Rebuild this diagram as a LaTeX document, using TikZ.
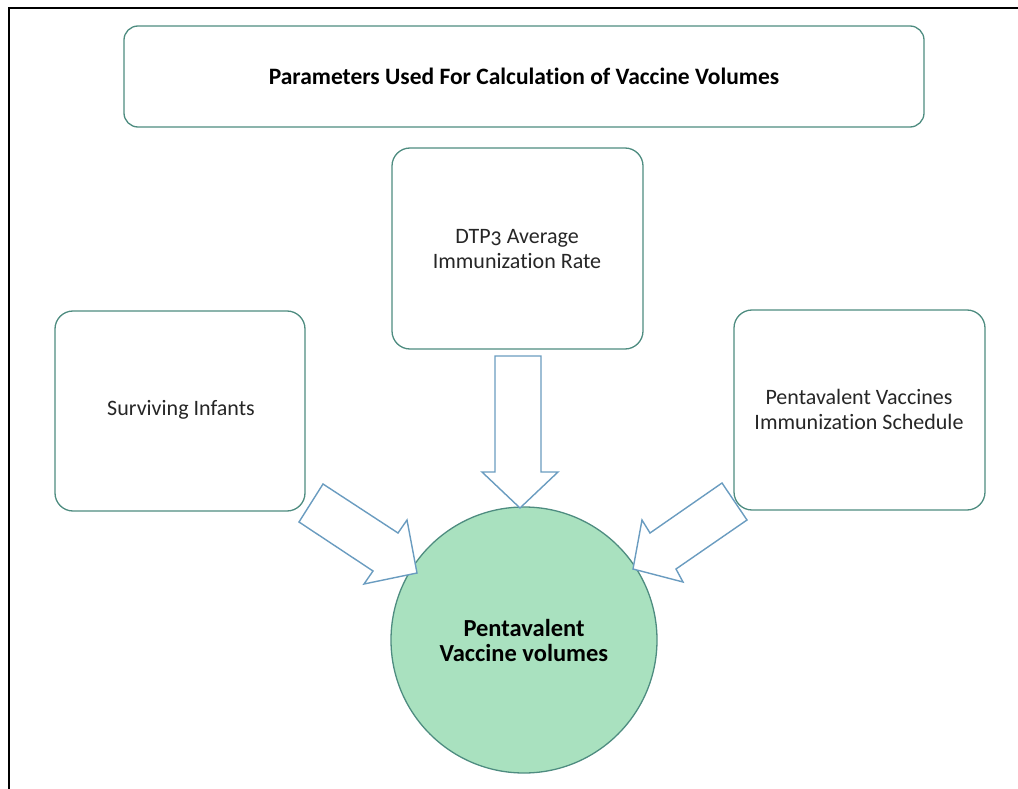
\documentclass[tikz,border=0pt]{standalone}
\usepackage{fontspec}
\setmainfont[Ligatures=NoCommon]{Carlito}
\begin{document}
\begin{tikzpicture}[x=1pt,y=-1pt,
  box/.style={draw=boxline,line width=1.3pt,rounded corners=14pt,fill=white},
  blockarrow/.style={draw=arrowline,line width=1.4pt,fill=white,line join=miter},
  label/.style={font=\fontsize{22}{25}\selectfont,align=center,text=black!85},
  boldlabel/.style={font=\bfseries\fontsize{23.5}{27}\selectfont,align=center}]
\definecolor{boxline}{HTML}{4E8C80}
\definecolor{arrowline}{HTML}{6A9CC0}
\definecolor{circfill}{HTML}{A9E1BF}
\useasboundingbox (0,0) rectangle (1018,789);
% page frame: top and left rules
\draw[line width=2.2pt] (9,789) -- (9,8) -- (1018,8);
% boxes
\draw[box] (124,26) rectangle (924,127);
\node[boldlabel] (title) at (524,76) {Parameters Used For Calculation of Vaccine Volumes};
\draw[box,rounded corners=18pt] (392,148) rectangle (643,349);
\node[label] (dtp) at (517,249) {DTP\oldstylenums{3} Average\\Immunization Rate};
\draw[box,rounded corners=18pt] (55,311) rectangle (305,511);
\node[label] (infants) at (181,410) {Surviving Infants};
\draw[box,rounded corners=18pt] (734,310) rectangle (985,510);
\node[label] (schedule) at (859,409) {Pentavalent Vaccines\\Immunization Schedule};
% central circle
\draw[draw=boxline,line width=1.3pt,fill=circfill] (524,640) circle (133);
\node[boldlabel,font=\bfseries\fontsize{24.5}{25}\selectfont] (volumes) at (524,640) {Pentavalent\\Vaccine volumes};
% block arrows
\draw[blockarrow] (495,356) -- (541,356) -- (541,472) -- (558,472) -- (520,508) -- (482,472) -- (495,472) -- cycle;
\draw[blockarrow] (323,484) -- (398,533) -- (407,520) -- (417,573) -- (364,584) -- (373,571) -- (299,522) -- cycle;
\draw[blockarrow] (722,483) -- (650,533) -- (642,520) -- (633,569) -- (683,582) -- (676,569) -- (747,520) -- cycle;
\end{tikzpicture}
\end{document}
